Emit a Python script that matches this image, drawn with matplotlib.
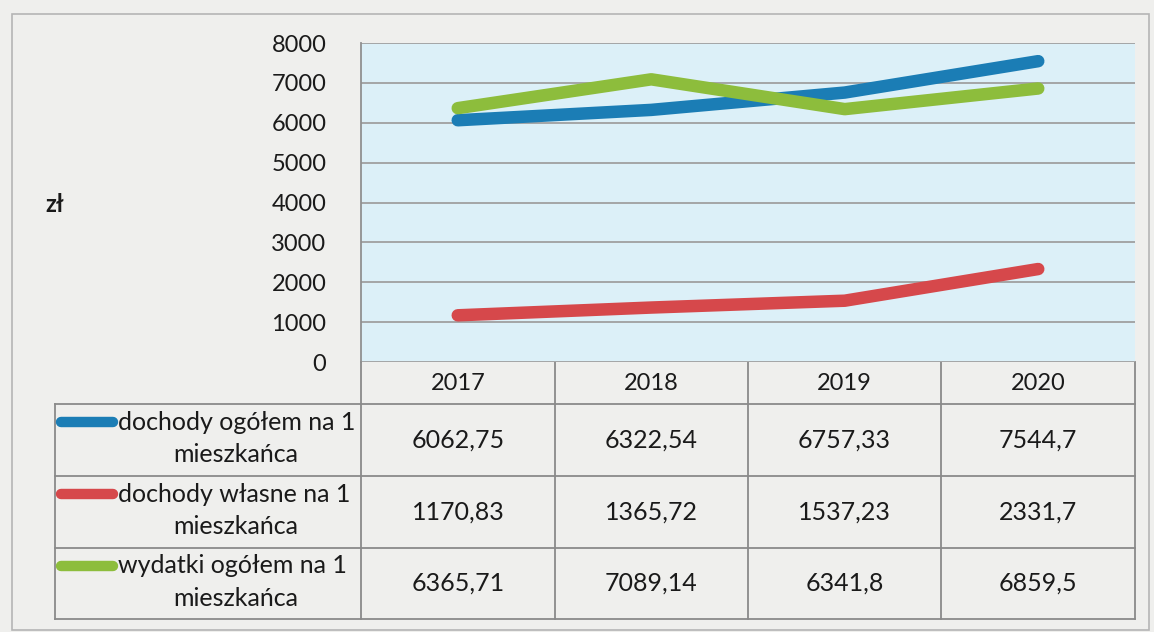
import numpy as np
import matplotlib.pyplot as plt
from matplotlib.patches import Rectangle

# ---------------------------------------------------------------------
# data
# ---------------------------------------------------------------------
years = ["2017", "2018", "2019", "2020"]
series_labels = [
    ("dochody ogółem na 1", "mieszkańca"),
    ("dochody własne na 1", "mieszkańca"),
    ("wydatki ogółem na 1", "mieszkańca"),
]
dochody_ogolem = [6062.75, 6322.54, 6757.33, 7544.7]
dochody_wlasne = [1170.83, 1365.72, 1537.23, 2331.7]
wydatki_ogolem = [6365.71, 7089.14, 6341.8, 6859.5]
series_colors = ["#1b7db5", "#d6484b", "#8dbd3c"]
y_ticks = [0, 1000, 2000, 3000, 4000, 5000, 6000, 7000, 8000]
y_unit = "zł"

W, H = 1154, 632
FONT = "Lato"


def fmt(v):
    return f"{v:g}".replace(".", ",")


fig = plt.figure(figsize=(W / 100, H / 100), dpi=100)
fig.patch.set_facecolor("#efefed")

# pixel-space layer for the frame and data table
bg = fig.add_axes([0, 0, 1, 1])
bg.set_xlim(0, W)
bg.set_ylim(H, 0)
bg.axis("off")
bg.add_patch(Rectangle((12, 14), 1137, 616, fill=False, ec="#b5b5b5", lw=1.2))

# plot area
px0, px1, py0, py1 = 361, 1135, 43, 362
ax = fig.add_axes([px0 / W, 1 - py1 / H, (px1 - px0) / W, (py1 - py0) / H])
ax.set_facecolor("#dcf0f8")
ax.set_xlim(-0.5, len(years) - 0.5)
ax.set_ylim(0, 8000)
ax.set_yticks(y_ticks)
ax.set_yticklabels([str(t) for t in y_ticks], fontsize=17, family=FONT, color="#1a1a1a")
ax.set_xticks([])
ax.tick_params(axis="y", length=0, pad=25)
ax.grid(axis="y", color="#a0a0a0", lw=1.3)
ax.set_axisbelow(True)
for s in ["top", "right", "bottom"]:
    ax.spines[s].set_visible(False)
ax.spines["left"].set_color("#909090")
ax.spines["left"].set_linewidth(1.3)

xs = np.arange(len(years))
all_series = [dochody_ogolem, dochody_wlasne, wydatki_ogolem]
for vals, c in zip(all_series, series_colors):
    ax.plot(xs, vals, color=c, lw=9, solid_capstyle="round",
            solid_joinstyle="round", zorder=3)

fig.text(55 / W, 1 - 205 / H, y_unit, fontsize=17, fontweight="bold",
         family=FONT, ha="center", va="center", color="#1a1a1a")

# ---------------------------------------------------------------------
# data table
# ---------------------------------------------------------------------
grid_c, grid_w = "#8a8a8a", 1.3
col_edges = [361, 555, 748, 941, 1135]
row_edges = [362, 404, 476, 548, 619]
lx = 55
txt_c = "#1a1a1a"

for y in row_edges[1:]:
    bg.plot([lx, col_edges[-1]], [y, y], color=grid_c, lw=grid_w)
for x in col_edges:
    bg.plot([x, x], [row_edges[0], row_edges[-1]], color=grid_c, lw=grid_w)
bg.plot([lx, lx], [row_edges[1], row_edges[-1]], color=grid_c, lw=grid_w)

for j, yr in enumerate(years):
    cx = (col_edges[j] + col_edges[j + 1]) / 2
    bg.text(cx, (row_edges[0] + row_edges[1]) / 2 + 1, yr, fontsize=17,
            family=FONT, ha="center", va="center", color=txt_c)

for i, (vals, c, lab) in enumerate(zip(all_series, series_colors, series_labels)):
    top, bot = row_edges[i + 1], row_edges[i + 2]
    cy = (top + bot) / 2
    l1 = cy - 18
    l2 = cy + 15
    bg.plot([61, 113], [l1, l1], color=c, lw=7.5, solid_capstyle="round")
    bg.text(118, l1, lab[0], fontsize=18, family=FONT, ha="left", va="center", color=txt_c)
    bg.text(236, l2, lab[1], fontsize=18, family=FONT, ha="center", va="center", color=txt_c)
    for j, v in enumerate(vals):
        cx = (col_edges[j] + col_edges[j + 1]) / 2
        bg.text(cx, cy, fmt(v), fontsize=18, family=FONT, ha="center", va="center",
                color=txt_c)

fig.savefig("out.png", dpi=100, facecolor=fig.get_facecolor())
